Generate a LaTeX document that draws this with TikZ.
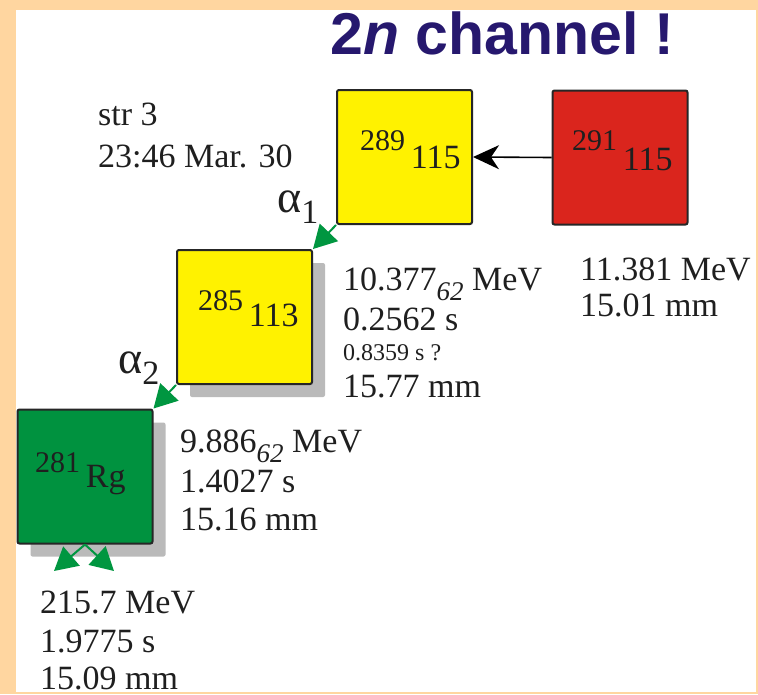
\documentclass[tikz,border=0pt]{standalone}
\usepackage{fontspec}
\setmainfont{Liberation Serif}
\newfontfamily\headfont{Liberation Sans}
\usetikzlibrary{arrows.meta,shadows}

\definecolor{framebg}{RGB}{255,214,160}
\definecolor{headblue}{RGB}{38,24,110}
\definecolor{boxyellow}{RGB}{255,242,0}
\definecolor{boxred}{RGB}{218,37,29}
\definecolor{boxgreen}{RGB}{0,146,63}
\definecolor{alphagreen}{RGB}{0,150,64}

\newcommand{\nucl}[3]{\raisebox{#3pt}{\fontsize{30}{30}\selectfont #1}\,#2}
\newcommand{\err}[1]{\raisebox{-10pt}{\fontsize{27}{27}\selectfont\itshape #1}}
\newcommand{\alphalab}[1]{{\fontsize{46}{46}\selectfont α}\raisebox{-11pt}{#1}}

\tikzset{
  nucbox/.style={draw=black!85, line width=2pt, rounded corners=2pt,
    minimum width=135pt, minimum height=134pt, inner sep=0pt},
  shade box/.style={drop shadow={shadow xshift=13pt, shadow yshift=-13pt,
    fill=black!27, opacity=1}},
  info/.style={anchor=base west, inner sep=0pt,
    font=\fontsize{34}{34}\selectfont, text=black!88},
  decay/.style={draw=alphagreen, fill=alphagreen, line width=2pt,
    -{Triangle[length=23pt,width=25pt]}},
  capture/.style={line width=1.6pt, -{Stealth[length=26pt,width=24pt,inset=8pt]}},
}

\begin{document}
\begin{tikzpicture}[x=1pt, y=-1pt]
        % Frame
        \useasboundingbox (0,0) rectangle (758,694);
        \fill[framebg] (0,0) rectangle (758,694);
        \fill[white] (16,10) rectangle (756,692);

        % Title
        \node[anchor=base west, inner sep=0pt, text=headblue,
          font=\headfont\bfseries\fontsize{59}{59}\selectfont] (title) at (330,54) {2\textit{n} channel !};

        % Nuclide boxes
        \node[nucbox, fill=boxyellow] (n289) at (404.5,157) {};
        \node[nucbox, fill=boxred] (n291) at (620,157.5) {};
        \node[nucbox, fill=boxyellow, shade box] (n285) at (244.5,317) {};
        \node[nucbox, fill=boxgreen, shade box] (n281) at (85,476.5) {};

        \node[info] (l289) at (360,168) {\nucl{289}{115}{18}};
        \node[info] (l291) at (572,170) {\nucl{291}{115}{20}};
        \node[info] (l285) at (198,326) {\nucl{285}{113}{16}};
        \node[info] (l281) at (35,487) {\nucl{281}{Rg}{15}};

        % Decays
        \draw[capture] (n291.west) -- (n289.east);
        \draw[decay] (n289.south west) -- (n285.north east);
        \draw[decay] (n285.south west) -- (n281.north east);
        \coordinate (fragL) at (54,571);
        \coordinate (fragR) at (114,571);
        \draw[decay] (n281.south) -- (fragL);
        \draw[decay] (n281.south) -- (fragR);

        \node[info] (a1) at (277,212) {\alphalab{1}};
        \node[info] (a2) at (118,373) {\alphalab{2}};

        % Event data
        \node[info] (str) at (98,125) {str 3};
        \node[info] (date) at (98,167) {23:46 Mar. 30};

        \node[info] (e291) at (580,280) {11.381 MeV};
        \node[info] (d291) at (580,316) {15.01 mm};

        \node[info] (e285) at (343,290) {10.377\err{62} MeV};
        \node[info] (t285) at (343,330) {0.2562 s};
        \node[info, font=\fontsize{24}{24}\selectfont] (q285) at (343,360) {0.8359 s ?};
        \node[info] (d285) at (343,397) {15.77 mm};

        \node[info] (e281) at (180,452) {9.886\err{62} MeV};
        \node[info] (t281) at (180,492) {1.4027 s};
        \node[info] (d281) at (180,530) {15.16 mm};

        \node[info] (esf) at (40,613) {215.7 MeV};
        \node[info] (tsf) at (40,652) {1.9775 s};
        \node[info] (dsf) at (40,689) {15.09 mm};

        \fill[framebg] (0,692) rectangle (758,694);
\end{tikzpicture}
\end{document}
